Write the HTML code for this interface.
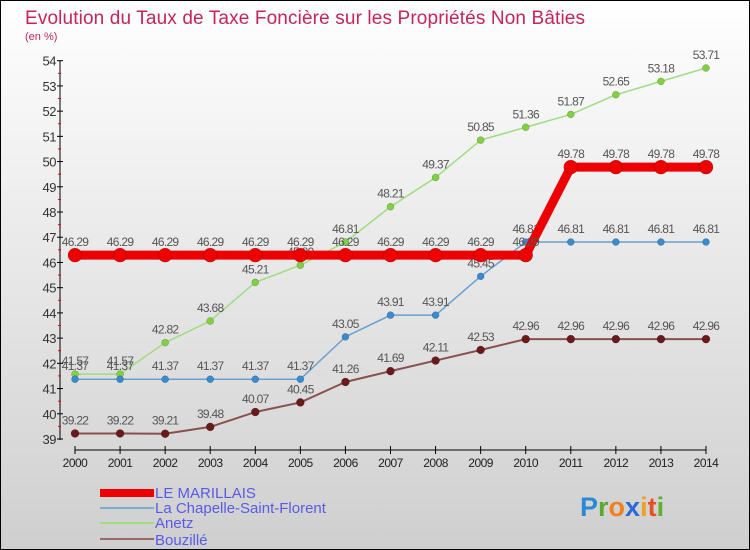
<!DOCTYPE html>
<html><head><meta charset="utf-8">
<style>
body{margin:0;width:750px;height:550px;overflow:hidden;font-family:"Liberation Sans",sans-serif}
svg{display:block}
</style></head><body>
<svg id="chart" width="750" height="550">
<defs><linearGradient id="bg" x1="0" y1="0" x2="0" y2="1"><stop offset="0" stop-color="#ffffff"/><stop offset="1" stop-color="#cfcfcf"/></linearGradient></defs>
<rect x="0.5" y="0.5" width="749" height="549" fill="url(#bg)" stroke="#000"/>
<text x="25" y="24" font-size="19" fill="#c8245a" textLength="560">Evolution du Taux de Taxe Foncière sur les Propriétés Non Bâties</text>
<text x="25" y="40" font-size="11" fill="#c8245a">(en %)</text>
<g id="axes"></g><g id="series"></g>
<g>
<rect x="100" y="489" width="54" height="8" fill="#e00"/>
<text x="155" y="498" font-size="15" fill="#5a5ae8">LE MARILLAIS</text>
<rect x="100" y="507" width="54" height="2" fill="#7aaed0"/>
<text x="155" y="513" font-size="15" fill="#5a5ae8">La Chapelle-Saint-Florent</text>
<rect x="100" y="522" width="54" height="2" fill="#a0dc80"/>
<text x="155" y="528" font-size="15" fill="#5a5ae8">Anetz</text>
<rect x="100" y="538" width="54" height="2" fill="#9a6a6a"/>
<text x="155" y="545" font-size="15" fill="#5a5ae8">Bouzillé</text>
</g>
<text x="580" y="516" font-size="27" font-weight="bold"><tspan fill="#2a8ad8">P</tspan><tspan fill="#5aa830">r</tspan><tspan fill="#f08020">o</tspan><tspan fill="#2a6ad8">x</tspan><tspan fill="#f0a020">i</tspan><tspan fill="#e85020">t</tspan><tspan fill="#60b030">i</tspan></text>
</svg>
<script>
const years=[2000,2001,2002,2003,2004,2005,2006,2007,2008,2009,2010,2011,2012,2013,2014];
const yTicks=[39,40,41,42,43,44,45,46,47,48,49,50,51,52,53,54];
const marillais=[46.29,46.29,46.29,46.29,46.29,46.29,46.29,46.29,46.29,46.29,46.29,49.78,49.78,49.78,49.78];
const chapelle=[41.37,41.37,41.37,41.37,41.37,41.37,43.05,43.91,43.91,45.45,46.81,46.81,46.81,46.81,46.81];
const anetz=[41.57,41.57,42.82,43.68,45.21,45.89,46.81,48.21,49.37,50.85,51.36,51.87,52.65,53.18,53.71];
const bouzille=[39.22,39.22,39.21,39.48,40.07,40.45,41.26,41.69,42.11,42.53,42.96,42.96,42.96,42.96,42.96];
const NS='http://www.w3.org/2000/svg';
const xs=i=>75+i*(706-75)/(years.length-1);
const ys=v=>439-(v-39)*(439-60.7)/15;
function mk(tag,attrs,parent,txt){const e=document.createElementNS(NS,tag);for(const k in attrs)e.setAttribute(k,attrs[k]);if(txt!=null)e.textContent=txt;parent.appendChild(e);return e;}
const ax=document.getElementById('axes');
let l=mk('line',{x1:60,y1:60,x2:60,y2:440,stroke:'#000'},ax);


yTicks.forEach(t=>{const y=ys(t);
 mk('line',{x1:57,y1:y,x2:63,y2:y,stroke:'#000'},ax);
 if(t<54){const m=ys(t+0.5);mk('line',{x1:58,y1:m,x2:61,y2:m,stroke:'#e00'},ax);}
 const tx=mk('text',{x:56,y:y+5,'font-size':13,fill:'#333','text-anchor':'end','letter-spacing':'-0.5'},ax,t);
 
 
});
l=mk('line',{x1:75,y1:450,x2:706,y2:450,stroke:'#000'},ax);


years.forEach((yr,i)=>{const x=xs(i);
 mk('line',{x1:x,y1:446,x2:x,y2:454,stroke:'#000'},ax);
 const tx=mk('text',{x:x,y:467,'font-size':12,fill:'#222','text-anchor':'middle','letter-spacing':'-0.5'},ax,yr);
 
 
});
const sg=document.getElementById('series');
function series(name,data,color,dot,w,r){
 const g=mk('g',{},sg);
 
 
 mk('polyline',{points:data.map((v,i)=>xs(i)+','+ys(v)).join(' '),fill:'none',stroke:color,'stroke-width':w,'stroke-linejoin':'round'},g);
 data.forEach((v,i)=>{
  const c=mk('circle',{cx:xs(i),cy:ys(v),r:r,fill:dot,stroke:'rgba(0,0,0,0.3)','stroke-width':0.5},g);
  
  
  const t=mk('text',{x:xs(i),y:ys(v)-9,'font-size':12,fill:'#555','text-anchor':'middle','letter-spacing':'-0.7'},g,v);
  
  
 });
}
series('bouzille',bouzille,'#8a5050','#6a1a1a',2,4);
series('anetz',anetz,'#a0dc80','#80d040',1.5,3.5);
series('la-chapelle',chapelle,'#6aa0d0','#3a8ad0',1.5,3.5);
series('le-marillais',marillais,'#ee0000','#ee0000',9,7);
</script>
</body></html>
